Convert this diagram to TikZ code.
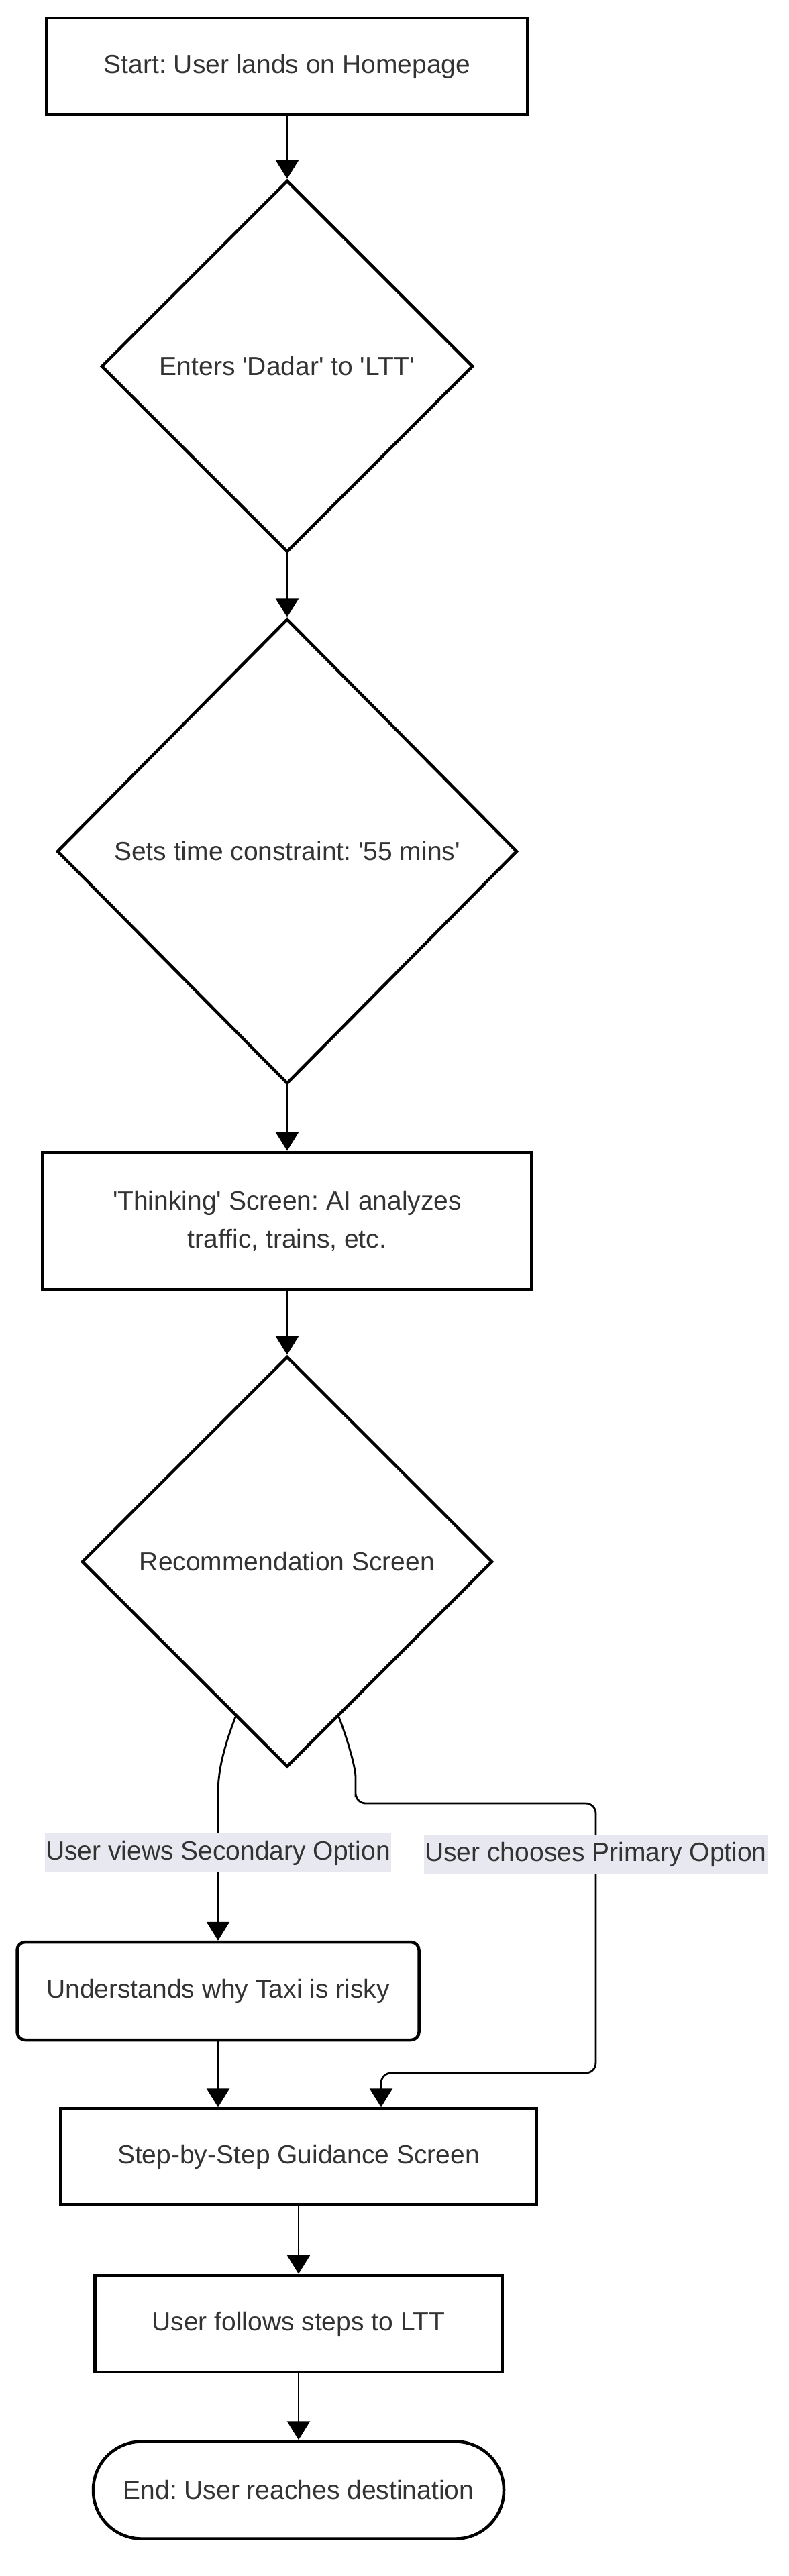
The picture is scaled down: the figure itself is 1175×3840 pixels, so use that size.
\documentclass[tikz,border=0pt]{standalone}
\usepackage{fontspec}
\setmainfont{Liberation Sans}
\usetikzlibrary{shapes.geometric, arrows.meta, calc}
\definecolor{txt}{HTML}{333333}
\definecolor{lblbg}{RGB}{232,232,240}
\newcommand{\squote}{\textquotesingle}
\frenchspacing

\begin{document}
\begin{tikzpicture}[x=1pt, y=-1pt,
  every node/.style={font=\fontsize{39}{57}\selectfont, text=txt},
  box/.style={draw, line width=4.5pt, inner sep=0pt},
  choice/.style={draw, diamond, aspect=1, line width=4.5pt, inner sep=0pt},
  flow/.style={line width=2.8pt, -{Triangle[width=34pt,length=28pt]}},
  lbl/.style={fill=lblbg, sharp corners, inner xsep=1pt, inner ysep=0pt, minimum height=58pt}]
\useasboundingbox (0,0) rectangle (1175,3840);
%\draw [help lines, step=100] (0,0) grid (1175,3840);
\node[box, minimum width=717pt, minimum height=144pt] (P0) at (428,99) {Start: User lands on Homepage};
\node[choice, minimum width=554pt, minimum height=554pt] (P1) at (428,546) {Enters \squote Dadar\squote\ to \squote LTT\squote};
\node[choice, minimum width=686pt, minimum height=693pt] (P2) at (428,1269) {Sets time constraint: \squote 55 mins\squote};
\node[box, minimum width=729pt, minimum height=204pt, align=center] (P3) at (428,1820) {\squote Thinking\squote\ Screen: AI analyzes\\traffic, trains, etc.};
\node[choice, minimum width=612pt, minimum height=612pt] (P4) at (428,2328) {Recommendation Screen};

% after the choice
\node[box, rounded corners=12pt, minimum width=599pt, minimum height=146pt] (P5) at (325,2968) {Understands why Taxi is risky};
\node[box, minimum width=710pt, minimum height=143pt] (P6) at (445,3215) {Step-by-Step Guidance Screen};
\node[box, minimum width=607pt, minimum height=144pt] (P7) at (445,3464) {User follows steps to LTT};
\node[box, rounded corners=72pt, minimum width=612pt, minimum height=145pt] (P8) at (445,3712) {End: User reaches destination};

\coordinate (R1) at (568,3090);

\path[flow]

% start to dadar
(P0) edge (P1)

% dadar to time
(P1) edge (P2)

% time to thinking
(P2) edge (P3)

% thinking to recommendation
(P3) edge (P4)

% taxi to guidance
(P5.south) edge (P5.south |- P6.north)

% guidance to steps
(P6) edge (P7)

% steps to end
(P7) edge (P8);

% secondary option
\draw[flow] ($(P4.south)!0.25!(P4.west)$) .. controls (332,2610) and (325,2640) .. (325,2675)
  -- node[lbl, pos=0.4] {User views Secondary Option} (P5.north);

% primary option
\draw[flow, rounded corners=15pt] ($(P4.south)!0.25!(P4.east)$) .. controls (524,2610) and (530,2640) .. (530,2664)
  -- (530,2688) -- (888,2688)
  -- node[lbl, pos=0.19] {User chooses Primary Option} (888,3090)
  -- (R1) -- (R1 |- P6.north);

\end{tikzpicture}
\end{document}
